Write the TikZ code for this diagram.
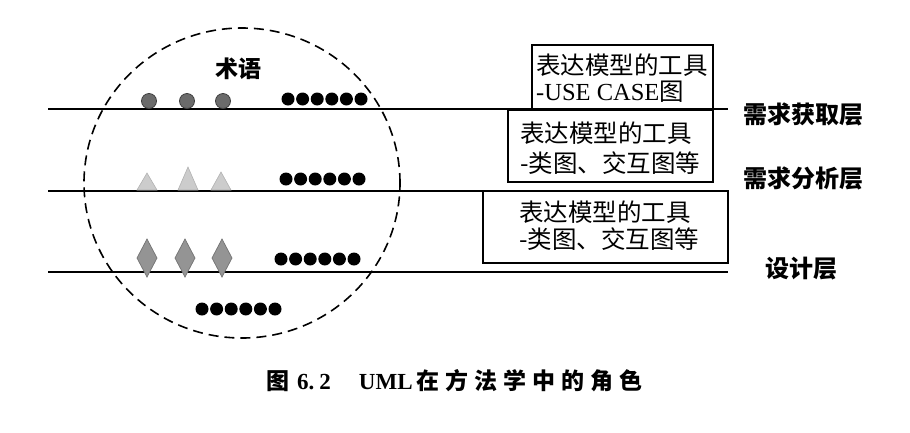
\documentclass[tikz,border=0pt]{standalone}
\usepackage{fontspec}
\setmainfont{Liberation Serif}
\newfontfamily\cjk{Noto Sans CJK SC}
\usetikzlibrary{shapes.geometric}
\begin{document}
\begin{tikzpicture}[x=1pt,y=-1pt,
  layerline/.style={line width=2pt},
  toolbox/.style={draw,line width=1.6pt},
  boxtext/.style={anchor=west,inner sep=0pt,font=\fontsize{24.5}{24.5}\selectfont\cjk},
  layerlabel/.style={inner sep=0pt,font=\fontsize{24}{24}\selectfont\cjk\bfseries},
  blackdot/.style={circle,fill=black,inner sep=0pt,minimum size=13pt},
  graydot/.style={circle,fill=black!58,draw=black!75,line width=0.8pt,inner sep=0pt,minimum size=15pt},
  trishape/.style={fill=black!20,draw=black!30,line width=0.6pt},
  diashape/.style={fill=black!42,draw=black!55,line width=0.7pt},
  termcircle/.style={dash pattern=on 10pt off 6pt,line width=1.6pt}
]
\useasboundingbox (0,0) rectangle (910,432);

% layer lines
\coordinate (l1a) at (48,109); \coordinate (l1b) at (728,109);
\coordinate (l2a) at (48,191); \coordinate (l2b) at (728,191);
\coordinate (l3a) at (48,272); \coordinate (l3b) at (728,272);
\draw[layerline] (l1a) -- (l1b);
\draw[layerline] (l2a) -- (l2b);
\draw[layerline] (l3a) -- (l3b);

% dashed circle
\draw[termcircle] (242,183) ellipse [x radius=158pt, y radius=155pt];

\node[inner sep=0pt,font=\fontsize{23}{23}\selectfont\cjk\bfseries] (term) at (238,69) {术语};

% row 1 gray dots
\foreach \x [count=\i] in {149,187,223} {
  \node[graydot] (g\i) at (\x,101) {};
}
% row 2 triangles
\foreach \x/\t in {147/173,188/167,221/172} {
  \draw[trishape] (\x-10,190) -- (\x,\t) -- (\x+10,190) -- cycle;
}
% row 3 diamonds
\foreach \x in {147,185,222} {
  \draw[diashape] (\x,239) -- (\x+10,258) -- (\x,277) -- (\x-10,258) -- cycle;
}
% black dot rows
\foreach \i in {0,...,5} {
  \node[blackdot] (da\i) at (288+14.6*\i,99) {};
  \node[blackdot] (db\i) at (286+14.6*\i,179) {};
  \node[blackdot] (dc\i) at (281+14.6*\i,259) {};
  \node[blackdot] (dd\i) at (202+14.6*\i,309) {};
}

% tool boxes
\draw[toolbox] (532,45) rectangle (713,109);
\node[boxtext] (t1a) at (536,65) {表达模型的工具};
\node[boxtext] (t1b) at (536,92) {{\rmfamily -USE CASE}图};

\draw[toolbox] (508,110) rectangle (713,182);
\node[boxtext] (t2a) at (520,133) {表达模型的工具};
\node[boxtext] (t2b) at (520,163) {-类图、交互图等};

\draw[toolbox] (483,191) rectangle (728,263);
\node[boxtext] (t3a) at (519,212) {表达模型的工具};
\node[boxtext] (t3b) at (519,239) {-类图、交互图等};

% layer labels
\node[layerlabel] (lab1) at (803,114) {需求获取层};
\node[layerlabel] (lab2) at (803,178) {需求分析层};
\node[layerlabel] (lab3) at (801,269) {设计层};

% caption
\node[anchor=west,inner sep=0pt,font=\fontsize{23}{23}\selectfont\bfseries] (cap) at (266,381)
 {{\cjk 图}\hspace{8pt}6.\hspace{5pt}2\hspace{28pt}UML\hspace{4pt}{\cjk 在\hspace{6pt}方\hspace{6pt}法\hspace{6pt}学\hspace{6pt}中\hspace{6pt}的\hspace{6pt}角\hspace{6pt}色}};
\end{tikzpicture}
\end{document}
